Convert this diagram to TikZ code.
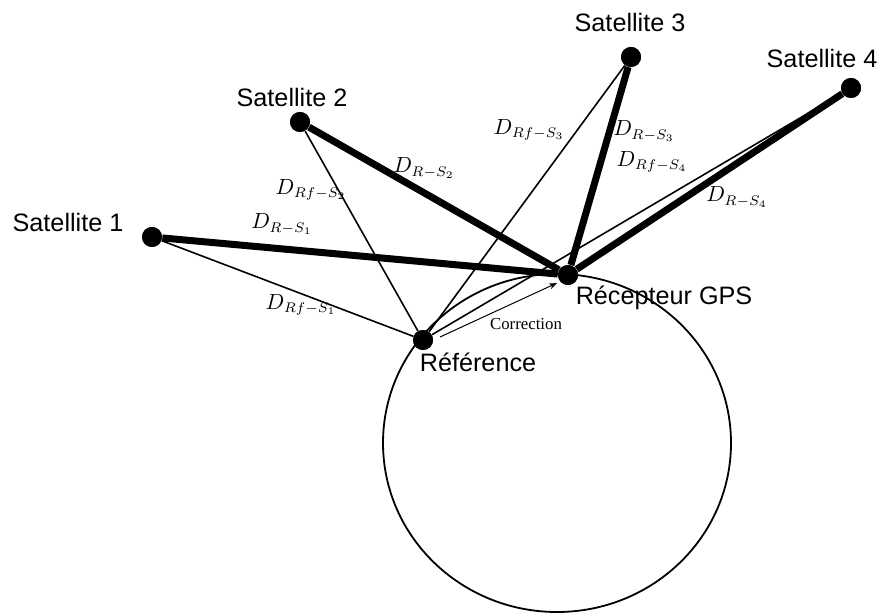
\documentclass[tikz,border=0pt]{standalone}
\usepackage{fontspec}
\usepackage{amsmath}
\newfontfamily\labelfont{Liberation Sans}
\newfontfamily\corrfont{Liberation Serif}
\usetikzlibrary{arrows.meta,positioning}

\begin{document}
\begin{tikzpicture}[
  x=0.5pt, y=-0.5pt,
  dot/.style={circle,fill=black,inner sep=0pt,minimum size=10pt},
  satname/.style={font=\labelfont\fontsize{12.6}{14}\selectfont,inner sep=1pt},
  dist/.style={font=\fontsize{10.5}{12}\selectfont,inner sep=0pt},
  meas/.style={line width=3.5pt},
  refl/.style={line width=0.8pt},
  arr/.style={-{Stealth[length=4pt,width=3pt]},line width=0.5pt}
]
\useasboundingbox (0,0) rectangle (886,614);

% stations
\node[dot] (s1) at (152,237) {};
\node[dot] (s2) at (300,122) {};
\node[dot] (s3) at (631,57) {};
\node[dot] (s4) at (851,88) {};
\node[dot] (ref) at (423,340) {};
\node[dot] (rec) at (568,275) {};

\node[satname] (s1-lbl) at (68,222) {Satellite 1};
\node[satname] (s2-lbl) at (292,97) {Satellite 2};
\node[satname] (s3-lbl) at (630,22) {Satellite 3};
\node[satname] (s4-lbl) at (822,58) {Satellite 4};
\node[satname] (ref-lbl) at (478,362) {Référence};
\node[satname] (rec-lbl) at (664,298) {Récepteur GPS};

% earth
\draw[line width=0.9pt] (557,443) ellipse [x radius=174, y radius=169];

% reference distances
\draw[refl] (ref) -- (s1);
\draw[refl] (ref) -- (s2);
\draw[refl] (ref) -- (s3);
\draw[refl] (ref) -- (s4);

% receiver distances
\draw[meas] (rec) -- (s1);
\draw[meas] (rec) -- (s2);
\draw[meas] (rec) -- (s3);
\draw[meas] (rec) -- (s4);

\node[dot] at (s1) {};
\node[dot] at (s2) {};
\node[dot] at (s3) {};
\node[dot] at (s4) {};
\node[dot] at (ref) {};
\node[dot] at (rec) {};

% labels
\node[dist] (d-r1) at (282,224) {$D_{R-S_1}$};
\node[dist] (d-f1) at (301,305) {$D_{Rf-S_1}$};
\node[dist] (d-f2) at (311,190) {$D_{Rf-S_2}$};
\node[dist] (d-r2) at (424,168) {$D_{R-S_2}$};
\node[dist] (d-f3) at (529,130) {$D_{Rf-S_3}$};
\node[dist] (d-r3) at (644,131) {$D_{R-S_3}$};
\node[dist] (d-f4) at (652,162) {$D_{Rf-S_4}$};
\node[dist] (d-r4) at (737,197) {$D_{R-S_4}$};

% correction
\coordinate (corr-a) at (440,337);
\coordinate (corr-b) at (557,283);
\draw[arr] (corr-a) -- (corr-b);
\node[font=\corrfont\fontsize{8.4}{10}\selectfont,inner sep=0pt] (corr) at (526,324) {Correction};
\end{tikzpicture}
\end{document}
